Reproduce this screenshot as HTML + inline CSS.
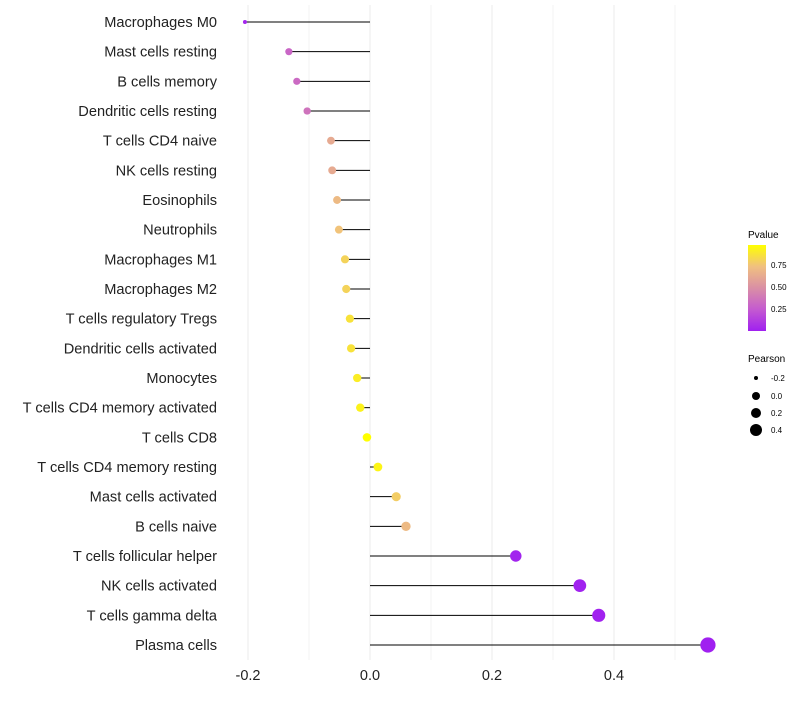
<!DOCTYPE html>
<html><head><meta charset="utf-8"><style>
body{margin:0;background:#fff;font-family:"Liberation Sans",sans-serif}
</style></head><body>
<svg id="chart" width="800" height="700" xmlns="http://www.w3.org/2000/svg">
<defs><linearGradient id="pg" x1="0" y1="1" x2="0" y2="0">
<stop offset="0" stop-color="#a020f0"/><stop offset="0.25" stop-color="#c45ad0"/><stop offset="0.5" stop-color="#da8fa5"/><stop offset="0.75" stop-color="#f0c080"/><stop offset="1" stop-color="#ffff00"/></linearGradient></defs>
<g id="grid"></g><g id="marks"></g><g id="labels"></g>
<g>
<text x="748" y="238" font-size="10" fill="#000">Pvalue</text>
<rect x="748" y="245" width="18" height="86" fill="url(#pg)"/>
<text x="771" y="268" font-size="8">0.75</text>
<text x="771" y="290" font-size="8">0.50</text>
<text x="771" y="312" font-size="8">0.25</text>
</g>
<g>
<text x="748" y="362" font-size="10">Pearson</text>
<circle cx="756" cy="378" r="2"/><text x="771" y="381" font-size="8">-0.2</text>
<circle cx="756" cy="396" r="4"/><text x="771" y="399" font-size="8">0.0</text>
<circle cx="756" cy="413" r="5"/><text x="771" y="416" font-size="8">0.2</text>
<circle cx="756" cy="430" r="6"/><text x="771" y="433" font-size="8">0.4</text>
</g>
</svg>
<script>
const categories=["Macrophages M0","Mast cells resting","B cells memory","Dendritic cells resting","T cells CD4 naive","NK cells resting","Eosinophils","Neutrophils","Macrophages M1","Macrophages M2","T cells regulatory  Tregs ","Dendritic cells activated","Monocytes","T cells CD4 memory activated","T cells CD8","T cells CD4 memory resting","Mast cells activated","B cells naive","T cells follicular helper","NK cells activated","T cells gamma delta","Plasma cells"];
const pearson=[-0.205,-0.133,-0.120,-0.103,-0.064,-0.062,-0.054,-0.051,-0.041,-0.039,-0.033,-0.031,-0.021,-0.016,-0.005,0.013,0.043,0.059,0.239,0.344,0.375,0.554];
const pvalues=[0.03,0.3,0.32,0.36,0.62,0.62,0.7,0.74,0.8,0.8,0.86,0.86,0.9,0.92,0.97,0.93,0.78,0.7,0.02,0.012,0.01,0.005];
const xTicks=[-0.2,0,0.2,0.4];
const xTickLabels=["-0.2","0.0","0.2","0.4"];
const xMinor=[-0.1,0.1,0.3,0.5];
const NS="http://www.w3.org/2000/svg";
const x=v=>370+v*610;
const y=i=>22+i*(623/21);
const stops=[[0,[160,32,240]],[0.25,[196,90,208]],[0.5,[218,143,165]],[0.75,[240,192,128]],[1,[255,255,0]]];
const pmin=0.005,pmax=0.97;
function col(p){let t=Math.max(0,Math.min(1,(p-pmin)/(pmax-pmin)));for(let k=1;k<stops.length;k++){if(t<=stops[k][0]){const a=stops[k-1],b=stops[k],f=(t-a[0])/(b[0]-a[0]);return 'rgb('+a[1].map((c,j)=>Math.round(c+(b[1][j]-c)*f)).join(',')+')';}}return 'rgb(255,255,0)';}
const r=v=>v<-0.18?2:Math.max(3.6,4.3+v*6);
function mk(tag,attrs,parent){const e=document.createElementNS(NS,tag);for(const k in attrs)e.setAttribute(k,attrs[k]);document.getElementById(parent).appendChild(e);return e;}
xMinor.concat(xTicks).forEach(v=>{const g=mk('line',{x1:x(v),x2:x(v),y1:5,y2:660,stroke:'#ebebeb','stroke-width':xTicks.includes(v)?1:0.6},'grid');

});
xTicks.forEach((v,i)=>{const t=mk('text',{x:x(v),y:680,'font-size':14.5,'text-anchor':'middle',fill:'#222'},'labels');t.textContent=xTickLabels[i];

});
categories.forEach((c,i)=>{
const t=mk('text',{x:217,y:y(i)+5,'font-size':14.6,'text-anchor':'end',fill:'#222','xml:space':'preserve'},'labels');t.textContent=c;


const l=mk('line',{x1:x(0),x2:x(pearson[i]),y1:y(i),y2:y(i),stroke:'#000','stroke-width':1},'marks');


const d=mk('circle',{cx:x(pearson[i]),cy:y(i),r:r(pearson[i]),fill:col(pvalues[i])},'marks');


});
</script>
</body></html>
